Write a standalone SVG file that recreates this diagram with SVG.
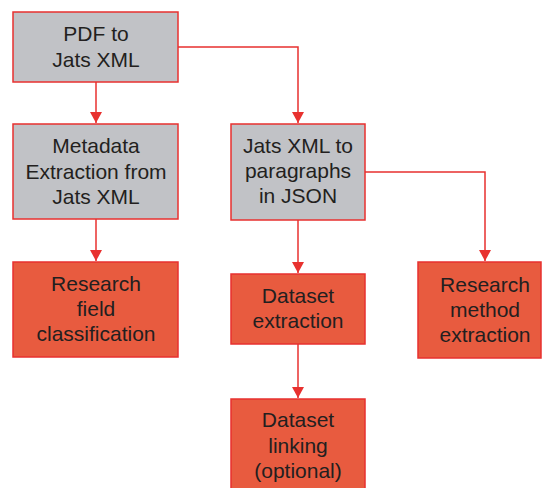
<svg xmlns="http://www.w3.org/2000/svg" width="542" height="488" viewBox="0 0 542 488">
<style>
.g{fill:#c1c2c6;stroke:#e8312f;stroke-width:1.5}
.o{fill:#e85b3f;stroke:#e8312f;stroke-width:1.5}
text{font-family:"Liberation Sans",Arial,sans-serif;font-size:21px;fill:#231f20;text-anchor:middle}
.c{fill:none;stroke:#e8312f;stroke-width:1.5}
</style>
<defs>
<marker id="ah" viewBox="0 0 11 12" refX="11" refY="6" markerWidth="11" markerHeight="12" markerUnits="userSpaceOnUse" orient="auto">
<path d="M0,0 L11,6 L0,12 Z" fill="#e8312f"/>
</marker>
</defs>
<g id="connectors">
<path class="c" d="M96,82 V123" marker-end="url(#ah)"/>
<path class="c" d="M178,47 H298 V123" marker-end="url(#ah)"/>
<path class="c" d="M96,219 V261" marker-end="url(#ah)"/>
<path class="c" d="M298,220 V273" marker-end="url(#ah)"/>
<path class="c" d="M365,172 H485 V261" marker-end="url(#ah)"/>
<path class="c" d="M298,344 V398" marker-end="url(#ah)"/>
</g>
<g id="n1"><rect class="g" x="13" y="12" width="165" height="70"/><text x="96" y="41">PDF to</text><text x="96" y="67">Jats XML</text></g>
<g id="n2"><rect class="g" x="13" y="124" width="165" height="95"/><text x="96" y="153">Metadata</text><text x="96" y="179">Extraction from</text><text x="96" y="204">Jats XML</text></g>
<g id="n3"><rect class="g" x="231" y="124" width="134" height="96"/><text x="298" y="153">Jats XML to</text><text x="298" y="178">paragraphs</text><text x="298" y="203">in JSON</text></g>
<g id="n4"><rect class="o" x="13" y="262" width="165" height="95"/><text x="96" y="291">Research</text><text x="96" y="316">field</text><text x="96" y="341">classification</text></g>
<g id="n5"><rect class="o" x="231" y="274" width="134" height="70"/><text x="298" y="303">Dataset</text><text x="298" y="328">extraction</text></g>
<g id="n6"><rect class="o" x="418" y="262" width="123" height="96"/><text x="485" y="292">Research</text><text x="485" y="317">method</text><text x="485" y="342">extraction</text></g>
<g id="n7"><rect class="o" x="231" y="399" width="134" height="95"/><text x="298" y="427">Dataset</text><text x="298" y="453">linking</text><text x="298" y="478">(optional)</text></g>
</svg>
